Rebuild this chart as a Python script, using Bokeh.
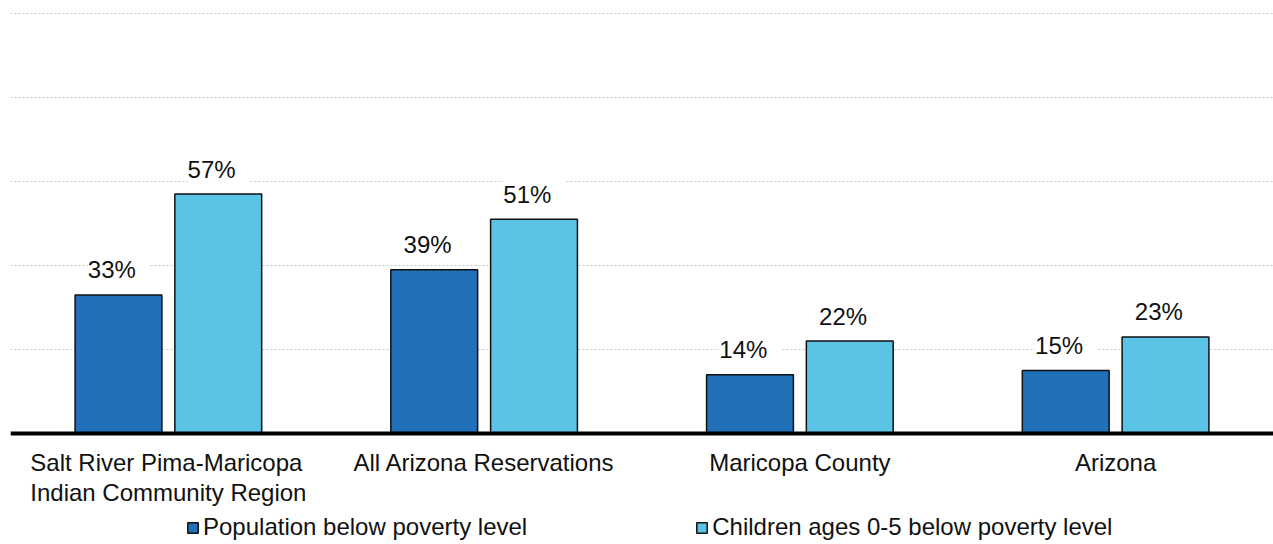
from bokeh.plotting import figure
from bokeh.models import ColumnDataSource, FactorRange, LabelSet, Legend, LegendItem, Span
from bokeh.core.properties import value
from bokeh.transform import dodge
from bokeh.embed import file_html
from bokeh.resources import INLINE

categories = ["Salt River Pima-Maricopa\nIndian Community Region", "All Arizona Reservations",
              "Maricopa County", "Arizona"]
population = [33, 39, 14, 15]
children = [57, 51, 22, 23]
series_names = ["Population below poverty level", "Children ages 0-5 below poverty level"]
grid_ticks = [20, 40, 60, 80, 100]

FONT = "Liberation Sans"
FS = "24px"
DARK = "#2270B8"
LIGHT = "#5BC3E6"

src = ColumnDataSource(data=dict(
    cat=categories,
    pop=population,
    kids=children,
    pop_lbl=[f" {v}% " for v in population],
    kids_lbl=[f" {v}% " for v in children],
))

p = figure(x_range=FactorRange(*categories, range_padding=0), y_range=(-26.43, 103.1),
           width=1273, height=544, output_backend="svg", toolbar_location=None,
           min_border_left=10, min_border_right=0, min_border_top=0, min_border_bottom=0)
p.outline_line_color = None
p.xaxis.visible = False
p.yaxis.visible = False
p.xgrid.grid_line_color = None
p.ygrid.grid_line_color = None

for t in grid_ticks:
    p.add_layout(Span(location=t, dimension="width", line_color="#C8C8C8",
                      line_dash="2 2", line_width=1, level="underlay"))

r1 = p.vbar(x=dodge("cat", -0.158, range=p.x_range), top="pop", bottom=0, width=0.275, source=src,
            fill_color=DARK, line_color="#111111", line_width=1.5)
r2 = p.vbar(x=dodge("cat", 0.158, range=p.x_range), top="kids", bottom=0, width=0.275, source=src,
            fill_color=LIGHT, line_color="#111111", line_width=1.5)

p.add_layout(Span(location=0, dimension="width", line_color="black", line_width=4))

for col, off in (("pop_lbl", -0.158), ("kids_lbl", 0.158)):
    top = "pop" if col == "pop_lbl" else "kids"
    lbl = LabelSet(x=dodge("cat", off, range=p.x_range), y=top, text=col, source=src,
                   text_align="center", text_baseline="middle", y_offset=25,
                   text_font=value(FONT), text_font_size=value(FS), text_color="#111111",
                   background_fill_color="white")
    p.add_layout(lbl)

# category labels under the baseline
cat_lbl = LabelSet(x="cat", y=0, text="cat", source=src, y_offset=-16,
                   text_align="center", text_baseline="top", text_line_height=1.1,
                   text_font=value(FONT), text_font_size=value(FS), text_color="#111111")
p.add_layout(cat_lbl)

legend = Legend(items=[LegendItem(label=series_names[0], renderers=[r1]),
                       LegendItem(label=series_names[1], renderers=[r2])],
                orientation="horizontal", location=(176, 3), spacing=168,
                label_height=26, glyph_width=13, glyph_height=13, label_standoff=4,
                label_text_font=FONT, label_text_font_size=FS, label_text_color="#111111",
                border_line_color=None, background_fill_alpha=0, padding=0, margin=0)
p.add_layout(legend, "center")

open("out.html", "w").write(file_html(p, INLINE))
